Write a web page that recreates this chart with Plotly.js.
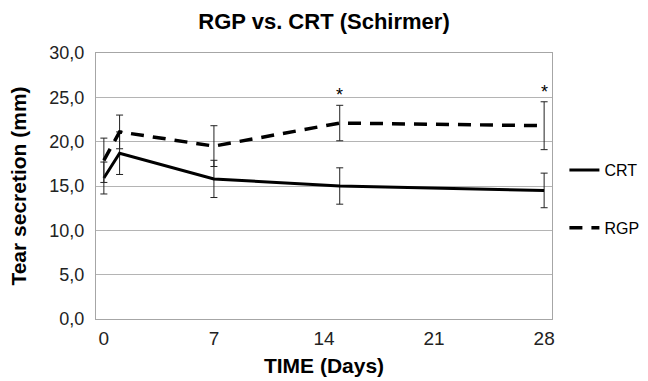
<!DOCTYPE html>
<html>
<head>
<meta charset="utf-8">
<script src="https://cdn.plot.ly/plotly-3.0.1.min.js"></script>
<style>html,body{margin:0;padding:0;background:#fff;}#chart{width:648px;height:381px;}</style>
</head>
<body>
<div id="chart"></div>
<script>
const days = [0, 1, 7, 15, 28];
const crtValues = [15.9, 18.7, 15.8, 15.0, 14.5];
const crtErrors = [1.8, 2.4, 2.1, 2.05, 1.95];
const rgpValues = [17.9, 21.1, 19.5, 22.1, 21.8];
const rgpErrors = [2.5, 1.9, 2.3, 2.0, 2.7];
const xTicks = [0, 7, 14, 21, 28];
const yTicks = [0, 5, 10, 15, 20, 25, 30];
const starDays = [15, 28];
const starLabels = ['*', '*'];

const font = 'Liberation Sans, Arial, sans-serif';

const traces = [
  {
    x: days, y: crtValues, name: 'CRT', type: 'scatter', mode: 'lines',
    legendgroup: 'a',
    line: {color: '#000', width: 3},
    error_y: {type: 'data', array: crtErrors, visible: true, color: '#222', thickness: 1, width: 3.5}
  },
  {
    x: days, y: rgpValues, name: 'RGP', type: 'scatter', mode: 'lines',
    legendgroup: 'b',
    line: {color: '#000', width: 3.5, dash: '13px,9px'},
    error_y: {type: 'data', array: rgpErrors, visible: true, color: '#222', thickness: 1, width: 3.5}
  }
];

const annotations = starDays.map((d, i) => {
  const idx = days.indexOf(d);
  return {
    x: d, y: rgpValues[idx] + rgpErrors[idx], xref: 'x', yref: 'y',
    text: starLabels[i], showarrow: false, yanchor: 'bottom', yshift: -2,
    font: {family: font, size: 18, color: '#000'}
  };
});

const layout = {
  width: 648, height: 381,
  margin: {l: 96, r: 96, t: 53, b: 62, autoexpand: false},
  paper_bgcolor: '#fff', plot_bgcolor: '#fff',
  title: {text: '<b>RGP vs. CRT (Schirmer)</b>', x: 0.5, xanchor: 'center', y: 0.943, yanchor: 'middle',
          font: {family: font, size: 22, color: '#000'}},
  xaxis: {
    range: [-0.5, 28.5], tickvals: xTicks, ticktext: xTicks.map(String),
    showgrid: false, zeroline: false, showline: true, mirror: true, linecolor: '#a6a6a6', linewidth: 1,
    ticks: '', ticklabelstandoff: 2,
    tickfont: {family: font, size: 19, color: '#222'},
    title: {text: '<b>TIME (Days)</b>', font: {family: font, size: 21, color: '#000'}, standoff: 10}
  },
  yaxis: {
    range: [0, 30], tickvals: yTicks, tickformat: '.1f',
    showgrid: true, gridcolor: '#b4b4b4', gridwidth: 1, zeroline: false,
    showline: true, mirror: true, linecolor: '#a6a6a6', linewidth: 1,
    ticks: '', ticklabelstandoff: 7,
    tickfont: {family: font, size: 18, color: '#222'},
    title: {text: '<b>Tear secretion (mm)</b>', font: {family: font, size: 21, color: '#000'}, standoff: 17}
  },
  separators: ',.',
  showlegend: true,
  legend: {xref: 'container', yref: 'container', x: 0.871, xanchor: 'left', y: 0.598, yanchor: 'top',
           traceorder: 'grouped', tracegroupgap: 34,
           font: {family: font, size: 16, color: '#000'}, bgcolor: 'rgba(0,0,0,0)'},
  annotations: annotations
};

Plotly.newPlot('chart', traces, layout, {displayModeBar: false, staticPlot: true});
</script>
</body>
</html>
